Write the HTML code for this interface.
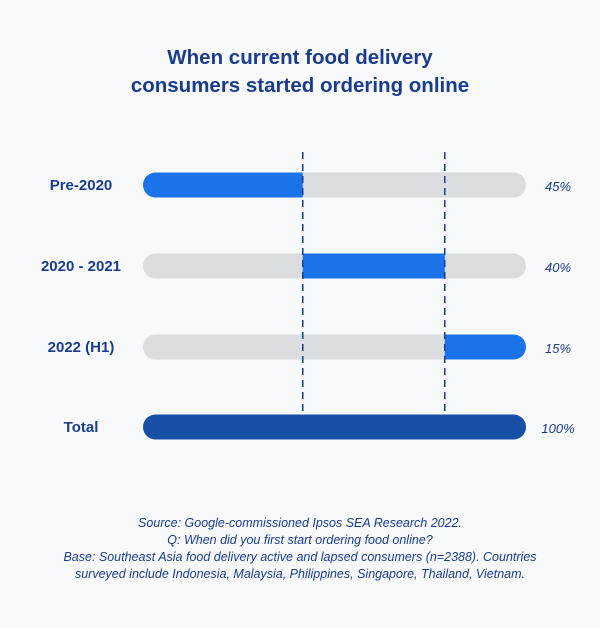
<!DOCTYPE html>
<html><head><meta charset="utf-8"><style>
html,body{margin:0;padding:0;background:#fff}
#wrap{position:relative;width:600px;height:628px;background:#f8f9fb;font-family:"Liberation Sans",sans-serif;overflow:hidden}
.title{position:absolute;top:44px;left:0;width:600px;text-align:center;font-size:20.5px;line-height:28px;color:#1a3c8f;font-weight:bold}
.src{position:absolute;top:515px;left:0;width:600px;text-align:center;font-size:12.5px;line-height:17px;color:#1a3c8f;font-style:italic}
</style></head><body>
<div id="wrap">
<div class="title">When current food delivery<br>consumers started ordering online</div>
<svg id="chart" width="600" height="628" style="position:absolute;left:0;top:0"></svg>
<div class="src">Source: Google-commissioned Ipsos SEA Research 2022.<br>Q: When did you first start ordering food online?<br>Base: Southeast Asia food delivery active and lapsed consumers (n=2388). Countries<br>surveyed include Indonesia, Malaysia, Philippines, Singapore, Thailand, Vietnam.</div>
</div>
<script>
const categories=["Pre-2020","2020 - 2021","2022 (H1)","Total"];
const values=[45,40,15,100];
const valueLabels=["45%","40%","15%","100%"];
const NS="http://www.w3.org/2000/svg";
const svg=document.getElementById('chart');
const x0=143,x1=526;
const xs=v=>Math.min(x1,x0+3.55*v);
const rowY=[185,266,347,427];
const bh=25;
function mk(t,a){const e=document.createElementNS(NS,t);for(const k in a)e.setAttribute(k,a[k]);svg.appendChild(e);return e;}
let cum=0;const cuts=[];
for(let i=0;i<categories.length;i++){
  const y=rowY[i]-bh/2;
  const isTotal=i===categories.length-1;
  const isLastPart=i===categories.length-2;
  const bg=mk('rect',{x:x0,y:y,width:x1-x0,height:bh,rx:bh/2,fill:'#dadce0'});
  
  
  const s=isTotal?0:cum, e=isTotal?values[i]:cum+values[i];
  const xa=xs(s), xb=(isTotal||isLastPart)?x1:xs(e);
  const clipId='c'+i;
  const cp=document.createElementNS(NS,'clipPath');cp.setAttribute('id',clipId);
  const cr=document.createElementNS(NS,'rect');
  cr.setAttribute('x',x0);cr.setAttribute('y',y);cr.setAttribute('width',x1-x0);cr.setAttribute('height',bh);cr.setAttribute('rx',bh/2);
  cp.appendChild(cr);svg.appendChild(cp);
  const b=mk('rect',{x:xa,y:y,width:Math.max(0,xb-xa),height:bh,fill:isTotal?'#174ea6':'#1a73e8','clip-path':'url(#'+clipId+')'});
  
  
  if(!isTotal){cum+=values[i];if(i<categories.length-2)cuts.push(cum);}
  const l=mk('text',{x:81,y:rowY[i]+5,'text-anchor':'middle','font-size':15,'font-weight':'bold',fill:'#1a3c8f','font-family':'Liberation Sans, sans-serif'});
  l.textContent=categories[i];
  
  
  const v=mk('text',{x:558,y:rowY[i]+6,'text-anchor':'middle','font-size':13,'font-style':'italic',fill:'#1a3c8f','font-family':'Liberation Sans, sans-serif'});
  v.textContent=valueLabels[i];
  
  
}
cuts.forEach(c=>{
  const d=mk('line',{x1:xs(c),x2:xs(c),y1:152,y2:414,stroke:'#1a3c8f','stroke-width':1.5,'stroke-dasharray':'7,5'});
  
  
});
</script>
</body></html>
